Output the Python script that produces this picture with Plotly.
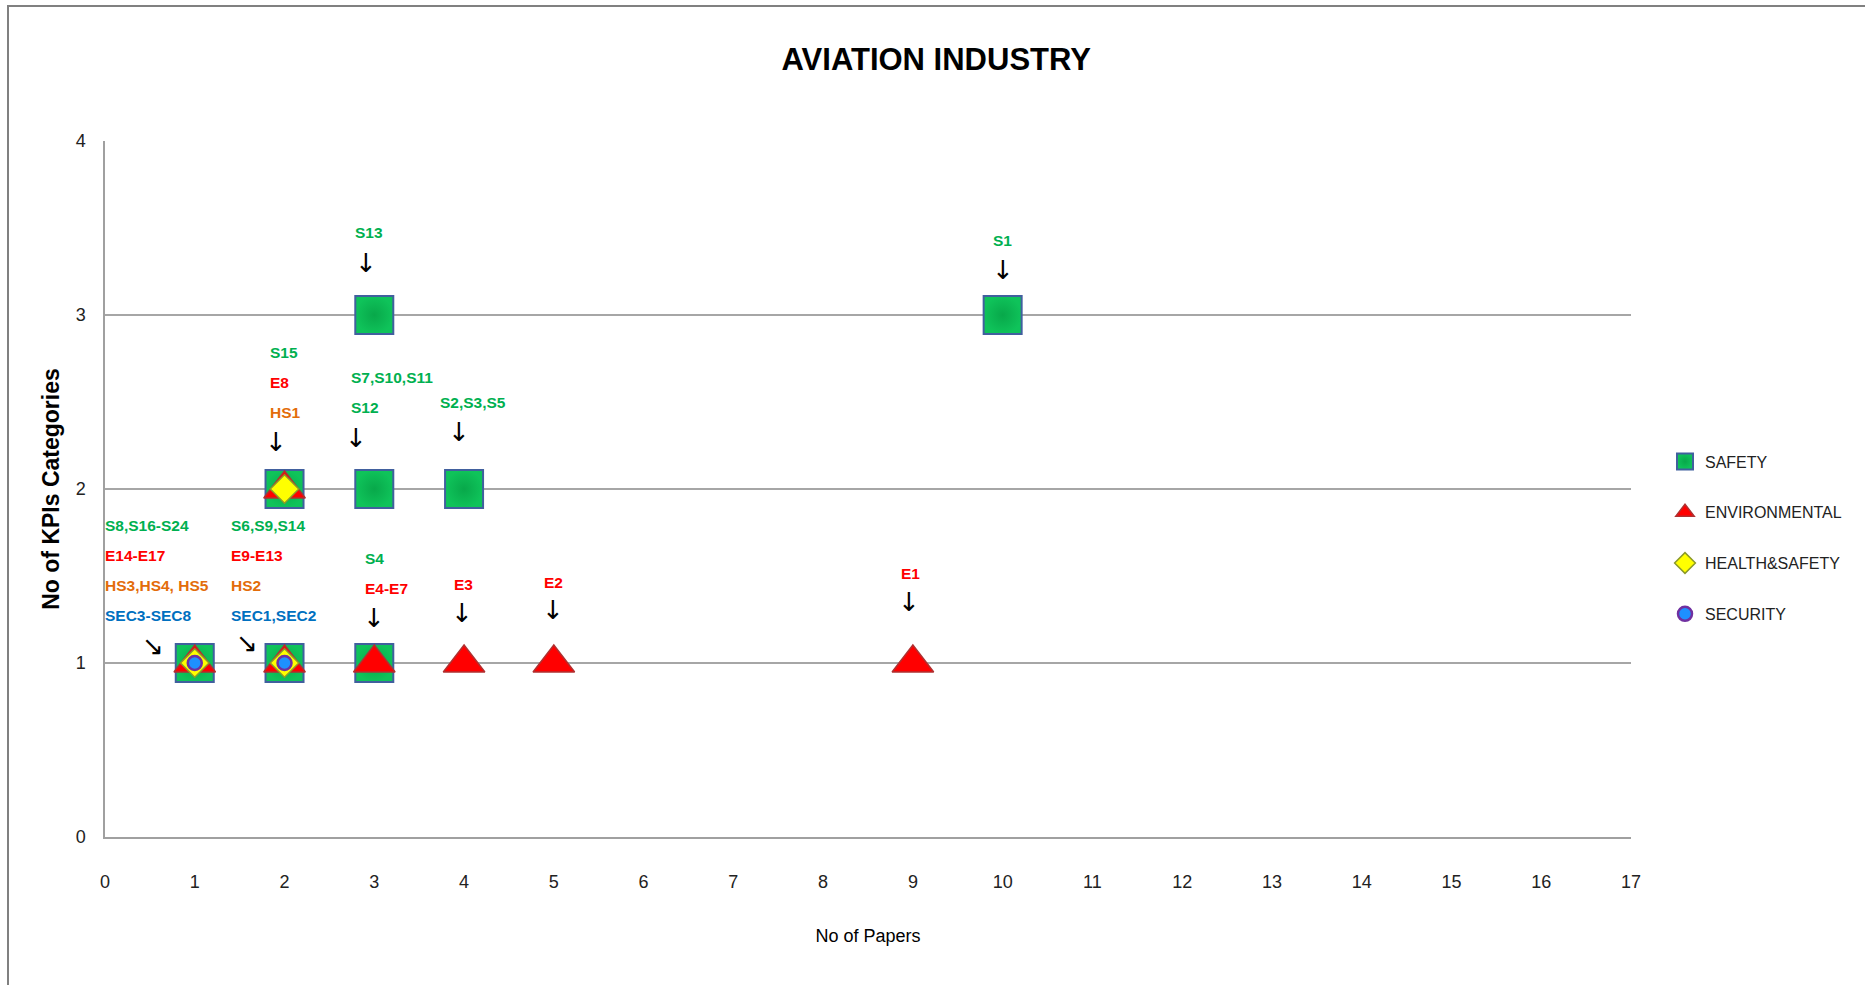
import plotly.graph_objects as go

# ---- data -------------------------------------------------------------
x_ticks = list(range(0, 18))
y_ticks = list(range(0, 5))

# number of papers (x) vs number of KPI categories (y)
safety_x = [1, 2, 3, 2, 3, 4, 3, 10]
safety_y = [1, 1, 1, 2, 2, 2, 3, 3]
env_x = [1, 2, 3, 4, 5, 9, 2]
env_y = [1, 1, 1, 1, 1, 1, 2]
hs_x = [1, 2, 2]
hs_y = [1, 1, 2]
sec_x = [1, 2]
sec_y = [1, 1]

# KPI codes listed above each point
kpi_labels = {
    (1, 1): ["S8,S16-S24", "E14-E17", "HS3,HS4, HS5", "SEC3-SEC8"],
    (2, 1): ["S6,S9,S14", "E9-E13", "HS2", "SEC1,SEC2"],
    (2, 2): ["S15", "E8", "HS1"],
    (3, 2): ["S7,S10,S11", "S12"],
    (4, 2): ["S2,S3,S5"],
    (3, 3): ["S13"],
    (10, 3): ["S1"],
    (3, 1): ["S4", "E4-E7"],
    (4, 1): ["E3"],
    (5, 1): ["E2"],
    (9, 1): ["E1"],
}

# ---- styling ----------------------------------------------------------
W, H = 1865, 985
L, R, T, B = 105, 234, 141, 148
FONT = "Liberation Sans, Arial, sans-serif"

CODE_COLORS = {"SEC": "#0070C0", "HS": "#E36C0A", "E": "#FF0000", "S": "#00B050"}

# label placement (pixels relative to the point): align, dx, first-line dy,
# arrow glyph, arrow dx, arrow dy
label_place = {
    (1, 1): ("left", -92, -138, "↘", -42, -17),
    (2, 1): ("left", -56, -138, "↘", -38, -20),
    (2, 2): ("left", -17, -137, "↓", -9, -47),
    (3, 2): ("left", -25, -112, "↓", -18, -51),
    (4, 2): ("left", -26, -87, "↓", -5, -57),
    (3, 3): ("center", -5, -83, "↓", -8, -52),
    (10, 3): ("center", 0, -75, "↓", 0, -45),
    (3, 1): ("left", -11, -105, "↓", 0, -45),
    (4, 1): ("center", -1, -79, "↓", -2, -50),
    (5, 1): ("center", 0, -81, "↓", -1, -53),
    (9, 1): ("center", -2, -90, "↓", -4, -61),
}
LINE_STEP = 30


def code_color(code):
    for prefix in ("SEC", "HS", "E", "S"):
        if code.startswith(prefix):
            return CODE_COLORS[prefix]
    return "black"


fig = go.Figure()

fig.add_trace(go.Scatter(
    x=safety_x, y=safety_y, mode="markers", name="SAFETY",
    legendgroup="a",
    marker=dict(symbol="square", size=38, color="#0FC35A",
                line=dict(color="#41609E", width=2),
                gradient=dict(type="radial", color="#08A84A")),
))
fig.add_trace(go.Scatter(
    x=env_x, y=env_y, mode="markers", name="ENVIRONMENTAL",
    legendgroup="b",
    marker=dict(symbol="triangle-up", size=36, color="#FF0000",
                line=dict(color="#B03030", width=1.5)),
))
fig.add_trace(go.Scatter(
    x=hs_x, y=hs_y, mode="markers", name="HEALTH&SAFETY",
    legendgroup="c",
    marker=dict(symbol="diamond", size=22, color="#FFFF00",
                line=dict(color="#8C9A2A", width=1.5)),
))
fig.add_trace(go.Scatter(
    x=sec_x, y=sec_y, mode="markers", name="SECURITY",
    legendgroup="d",
    marker=dict(symbol="circle", size=14, color="#1E90FF",
                line=dict(color="#7030A0", width=2.5)),
))

annotations = []
for key, lines in kpi_labels.items():
    align, dx, dy0, arrow, adx, ady = label_place[key]
    for i, code in enumerate(lines):
        annotations.append(dict(
            x=key[0], y=key[1], xref="x", yref="y", text=f"<b>{code}</b>",
            showarrow=False, xanchor=align, yanchor="middle",
            xshift=dx, yshift=-(dy0 + i * LINE_STEP),
            font=dict(family=FONT, size=15.5, color=code_color(code)),
        ))
    annotations.append(dict(
        x=key[0], y=key[1], xref="x", yref="y", text=arrow,
        showarrow=False, xanchor="center", yanchor="middle",
        xshift=adx, yshift=-ady,
        font=dict(family="DejaVu Sans", size=26, color="black"),
    ))

pw, ph = W - L - R, H - T - B


def px_x(p):
    return (p - L) / pw


def px_y(p):
    return (H - B - p) / ph


fig.update_layout(
    width=W, height=H,
    margin=dict(l=L, r=R, t=T, b=B, autoexpand=False),
    paper_bgcolor="white", plot_bgcolor="white",
    title=dict(text="<b>AVIATION INDUSTRY</b>", xref="container", yref="container",
               x=0.502, y=1 - 59 / H, xanchor="center", yanchor="middle",
               font=dict(family=FONT, size=31, color="black")),
    xaxis=dict(range=[0, 17], tickvals=x_ticks, showgrid=False, zeroline=False,
               showline=True, linecolor="#A0A0A0", linewidth=1.5,
               ticks="", ticklabelstandoff=28,
               tickfont=dict(family=FONT, size=18, color="#222"),
               title=dict(text="No of Papers", standoff=38,
                          font=dict(family=FONT, size=18, color="black"))),
    yaxis=dict(range=[0, 4], tickvals=y_ticks, showgrid=True, gridcolor="#A6A6A6",
               gridwidth=1.5, zeroline=False, showline=True, linecolor="#A0A0A0",
               linewidth=1.5, ticks="", ticklabelstandoff=14,
               tickfont=dict(family=FONT, size=18, color="#222"),
               title=dict(text="<b>No of KPIs Categories</b>", standoff=10,
                          font=dict(family=FONT, size=23, color="black"))),
    legend=dict(x=px_x(1665), y=px_y(538), xanchor="left", yanchor="middle",
                tracegroupgap=27, traceorder="grouped",
                font=dict(family=FONT, size=16, color="#222"),
                bgcolor="rgba(0,0,0,0)"),
    annotations=annotations,
    shapes=[dict(type="rect", xref="paper", yref="paper",
                 x0=px_x(8), x1=px_x(W + 20), y0=px_y(H + 20), y1=px_y(6),
                 line=dict(color="#808080", width=2), layer="below")],
)

fig.write_html("out.html")
